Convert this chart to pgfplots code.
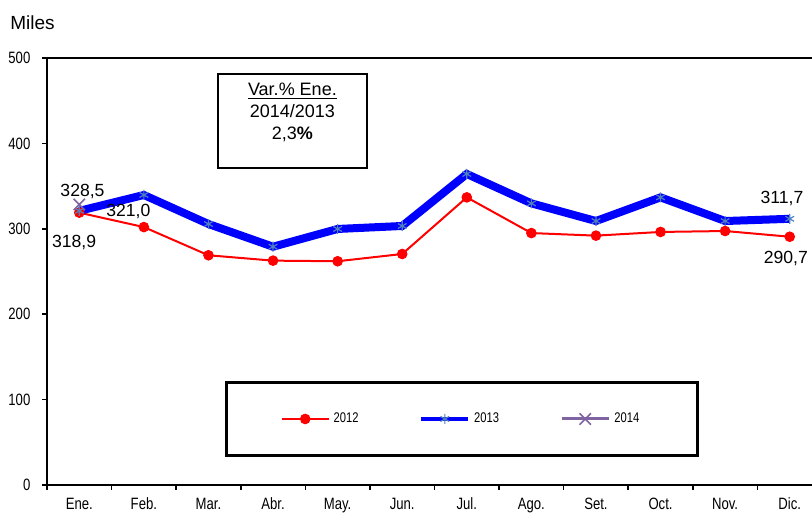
\documentclass[border=0pt]{standalone}
\usepackage{fontspec}
\setmainfont{Liberation Sans}
\newfontfamily\narrow[FakeStretch=0.8]{Liberation Sans}
\usepackage{pgfplots}
\pgfplotsset{compat=1.18}
\definecolor{c12}{RGB}{255,0,0}
\definecolor{c13}{RGB}{0,0,255}
\definecolor{c13m}{RGB}{79,129,189}
\definecolor{c14}{RGB}{128,100,162}
\begin{document}
\begin{tikzpicture}
\begin{axis}[name=ax, scale only axis, width=387.5pt, height=213.5pt,
  xmin=-0.5, xmax=11.5, ymin=0, ymax=500,
  ytick={0,100,200,300,400,500},
  xtick={-0.5,0.5,...,10.5}, xticklabels={},
  extra x ticks={0,1,2,3,4,5,6,7,8,9,10,11},
  extra x tick labels={Ene.,Feb.,Mar.,Abr.,May.,Jun.,Jul.,Ago.,Set.,Oct.,Nov.,Dic.},
  extra x tick style={major tick length=0pt, tick style={draw=none},
     xticklabel style={font=\narrow\fontsize{8.2}{9}\selectfont, yshift=-3pt}},
  tick align=outside, xtick pos=bottom, ytick pos=left,
  major tick length=2.5pt,
  axis line style={line width=1pt}, tick style={black, line width=0.8pt},
  /pgf/number format/assume math mode=true,
  yticklabel style={font=\narrow\fontsize{8.2}{9}\selectfont, xshift=-2.3pt},
  clip=false,
  legend columns=3,
  legend style={at={(0.5355,0.1546)}, anchor=center, draw=black, line width=1.3pt,
    font=\narrow\fontsize{7}{8}\selectfont, inner xsep=27pt, inner ysep=13pt,
    /tikz/every even column/.append style={column sep=28.5pt}},
  legend image code/.code={\draw[mark repeat=2,mark phase=2] plot coordinates {(0cm,0cm) (0.415cm,0cm) (0.83cm,0cm)};},
]
\addplot[color=c12, line width=1pt, mark=*, mark size=2.4pt,
  mark options={solid, fill=c12, draw=c12, line width=0.5pt},
  legend image post style={line width=0.8pt}]
  coordinates {(0,318.9) (1,302) (2,269) (3,262.7) (4,262) (5,270.5) (6,336.8) (7,295) (8,292) (9,296.3) (10,297.4) (11,290.7)};
\addlegendentry{2012}
\addplot[color=c13, line width=4pt, mark=asterisk, mark size=2.5pt,
  mark options={solid, draw=c13m, line width=0.6pt},
  legend image post style={line width=1.7pt}]
  coordinates {(0,321.0) (1,339.6) (2,305.6) (3,279) (4,299.8) (5,303.3) (6,364.2) (7,329.8) (8,309.1) (9,336.8) (10,309.1) (11,311.7)};
\addlegendentry{2013}
\addplot[color=c14, line width=1.5pt, mark=x, mark size=4pt,
  mark options={solid, line width=0.8pt}]
  coordinates {(0,328.5)};
\addlegendentry{2014}
\node[font=\fontsize{8.8}{10}\selectfont] at (axis cs:0.05,344) {328,5};
\node[font=\fontsize{8.8}{10}\selectfont] at (axis cs:0.76,319.7) {321,0};
\node[font=\fontsize{8.8}{10}\selectfont] at (axis cs:-0.08,284.5) {318,9};
\node[font=\fontsize{8.8}{10}\selectfont] at (axis cs:10.88,336) {311,7};
\node[font=\fontsize{8.8}{10}\selectfont] at (axis cs:10.94,265.8) {290,7};
\draw[line width=0.8pt] (axis cs:2.147,481.3) rectangle (axis cs:4.454,371.2);
\node[anchor=north, inner sep=0pt, align=center, font=\fontsize{9}{11}\selectfont, yshift=-4.5pt]
  at (axis cs:3.30,481.3) {\underline{Var.\% Ene.}\\2014/2013\\2,3\textbf{\%}};
\end{axis}
\node[anchor=west, inner sep=0pt, font=\fontsize{9.5}{12}\selectfont] at ([xshift=-18.5pt,yshift=17.75pt]ax.north west) {Miles};
\pgfresetboundingbox
\path[use as bounding box] ([xshift=-23.5pt,yshift=-15.5pt]ax.south west) rectangle ([xshift=-5pt,yshift=29pt]ax.north east);
\end{tikzpicture}
\end{document}
